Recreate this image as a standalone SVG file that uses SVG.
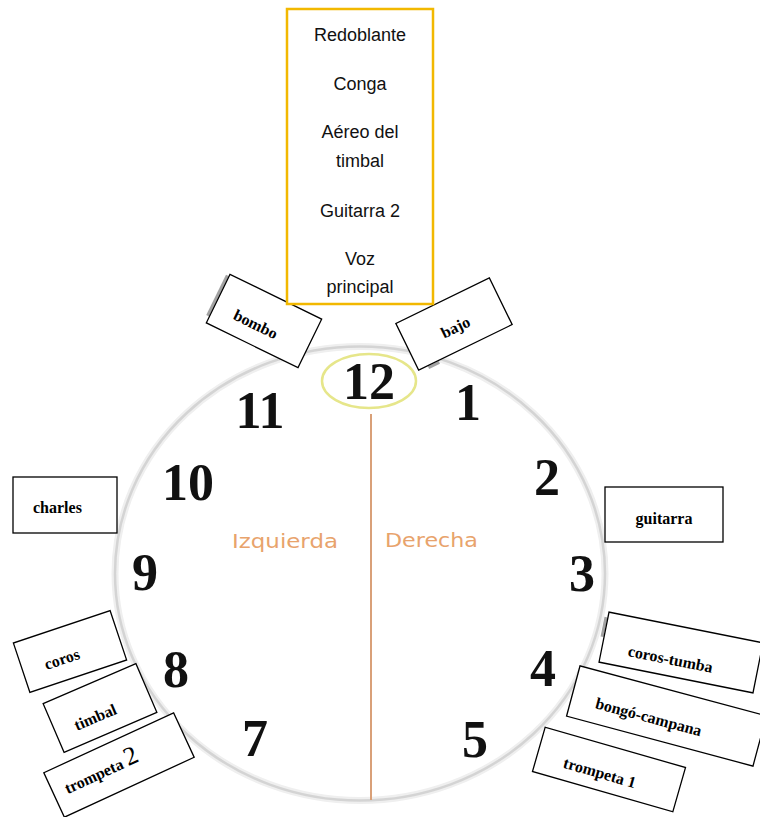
<svg xmlns="http://www.w3.org/2000/svg" width="760" height="817" viewBox="0 0 760 817">
<style>
.box{fill:#fff;stroke:#000;stroke-width:1.3}
.lbl{font-family:"Liberation Serif","Times New Roman",serif;font-weight:bold;font-size:16px;fill:#000}
.num{font-family:"Liberation Serif","Times New Roman",serif;font-weight:bold;font-size:52px;text-anchor:middle;fill:#111}
.side{font-family:"DejaVu Sans",Verdana,sans-serif;font-size:19px;fill:#e8a36c}
.list{font-family:"Liberation Sans",Arial,sans-serif;font-size:18px;text-anchor:middle;fill:#111}
.shadow{fill:none;stroke:#555;stroke-width:3;opacity:0.55}
</style>
<rect width="760" height="817" fill="#fff"/>
<g id="clock">
<ellipse cx="360" cy="573.5" rx="245" ry="227" fill="#fff" stroke="#efefef" stroke-width="7"/>
<ellipse cx="360" cy="573.5" rx="245" ry="227" fill="none" stroke="#d4d4d4" stroke-width="2.5"/>
<ellipse cx="369" cy="381" rx="47" ry="27" fill="#fff" stroke="#e6e68a" stroke-width="2.5"/>
<text class="num" x="369" y="399">12</text>
<text class="num" x="260" y="428">11</text>
<text class="num" x="468" y="420">1</text>
<text class="num" x="188" y="500">10</text>
<text class="num" x="547" y="495">2</text>
<text class="num" x="145" y="590">9</text>
<text class="num" x="582" y="591">3</text>
<text class="num" x="176" y="687">8</text>
<text class="num" x="543" y="686">4</text>
<text class="num" x="255" y="756">7</text>
<text class="num" x="475" y="757">5</text>
<text class="side" x="232" y="548" textLength="106" lengthAdjust="spacingAndGlyphs">Izquierda</text>
<text class="side" x="385" y="547" textLength="93" lengthAdjust="spacingAndGlyphs">Derecha</text>
</g>
<g id="connectors">
<line x1="371" y1="414" x2="371" y2="800" stroke="#d9a078" stroke-width="2"/>
</g>
<g id="bombo" transform="translate(264,321) rotate(26)">
<line class="shadow" x1="-53" y1="-25" x2="-53" y2="20"/>
<rect class="box" x="-51" y="-27" width="102" height="54"/>
<text class="lbl" x="-6" y="12" text-anchor="middle">bombo</text>
</g>
<g id="bajo" transform="translate(454,324) rotate(-26)">
<line class="shadow" x1="-42" y1="28" x2="-30" y2="28"/>
<rect class="box" x="-52" y="-26" width="104" height="52"/>
<text class="lbl" x="0" y="9" text-anchor="middle">bajo</text>
</g>
<g id="voces">
<rect x="287" y="9" width="146" height="295" fill="#fff" stroke="#f2b800" stroke-width="2.5"/>
<text class="list" x="360" y="41">Redoblante</text>
<text class="list" x="360" y="90">Conga</text>
<text class="list" x="360" y="138">Aéreo del</text>
<text class="list" x="360" y="167">timbal</text>
<text class="list" x="360" y="217">Guitarra 2</text>
<text class="list" x="360" y="265">Voz</text>
<text class="list" x="360" y="293">principal</text>
</g>
<g id="charles">
<rect class="box" x="13" y="477" width="104" height="56"/>
<text class="lbl" x="33" y="513">charles</text>
</g>
<g id="guitarra">
<rect class="box" x="605" y="487" width="118" height="55"/>
<text class="lbl" x="664" y="524" text-anchor="middle">guitarra</text>
</g>
<g id="coros" transform="translate(70,651.5) rotate(-18.5)">
<rect class="box" x="-51" y="-26" width="102" height="52"/>
<text class="lbl" x="-10" y="10" text-anchor="middle">coros</text>
</g>
<g id="timbal" transform="translate(100,708) rotate(-23.3)">
<rect class="box" x="-50.5" y="-26.5" width="101" height="53"/>
<text class="lbl" x="-8" y="12" text-anchor="middle">timbal</text>
</g>
<g id="trompeta2" transform="translate(119,765) rotate(-24.8)">
<rect class="box" x="-71.5" y="-24.5" width="143" height="49"/>
<text class="lbl" x="-19" y="5" text-anchor="middle">trompeta <tspan font-weight="normal" font-size="26">2</tspan></text>
</g>
<g id="coros-tumba" transform="translate(681,652.5) rotate(11.3)">
<line class="shadow" x1="-80.5" y1="-20" x2="-80.5" y2="0"/>
<rect class="box" x="-78.5" y="-25.5" width="157" height="51"/>
<text class="lbl" x="-9" y="14" text-anchor="middle">coros-tumba</text>
</g>
<g id="bongo-campana" transform="translate(666.5,716) rotate(15)">
<rect class="box" x="-96.5" y="-26" width="193" height="52"/>
<text class="lbl" x="-17" y="11" text-anchor="middle">bongó-campana</text>
</g>
<g id="trompeta1" transform="translate(609,769.5) rotate(16)">
<rect class="box" x="-73" y="-23" width="146" height="46"/>
<text class="lbl" x="-8" y="11" text-anchor="middle">trompeta 1</text>
</g>
</svg>
